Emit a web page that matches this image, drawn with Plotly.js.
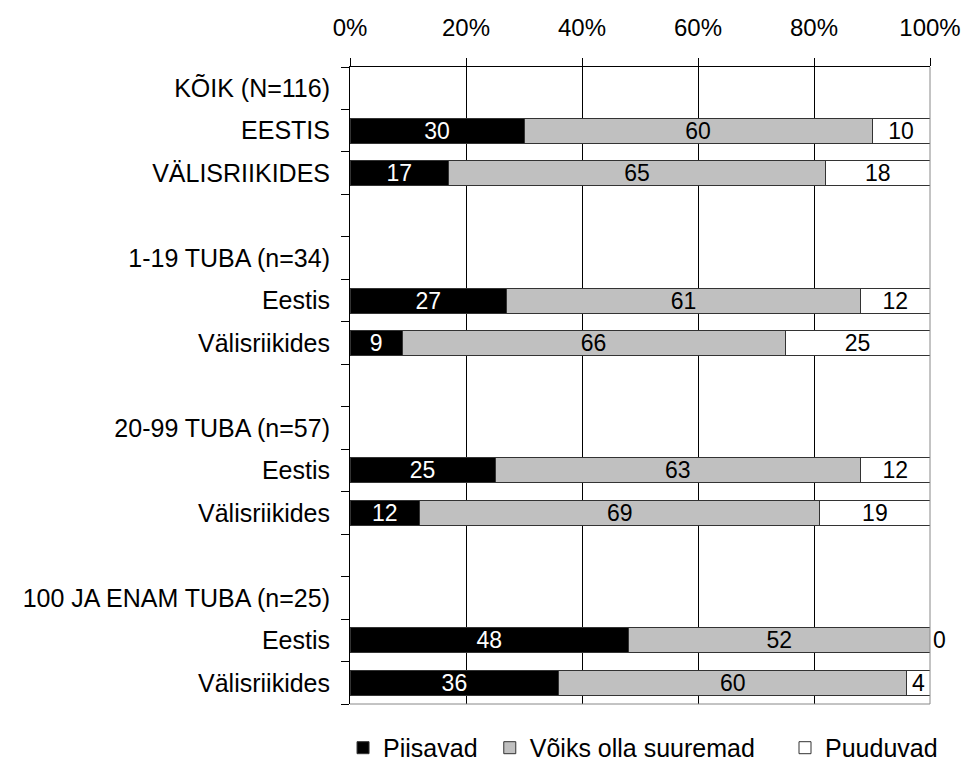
<!DOCTYPE html>
<html>
<head>
<meta charset="utf-8">
<script src="https://cdn.plot.ly/plotly-3.0.1.min.js"></script>
<style>body{margin:0;background:#fff}</style>
</head>
<body>
<div id="chart" style="width:965px;height:764px"></div>
<script>
const categories = [
  "KÕIK (N=116)", "EESTIS", "VÄLISRIIKIDES", " ",
  "1-19 TUBA (n=34)", "Eestis", "Välisriikides", "  ",
  "20-99 TUBA (n=57)", "Eestis ", "Välisriikides ", "   ",
  "100 JA ENAM TUBA (n=25)", "Eestis  ", "Välisriikides  "
];
const tickLabels = [
  "KÕIK (N=116)", "EESTIS", "VÄLISRIIKIDES", "",
  "1-19 TUBA (n=34)", "Eestis", "Välisriikides", "",
  "20-99 TUBA (n=57)", "Eestis", "Välisriikides", "",
  "100 JA ENAM TUBA (n=25)", "Eestis", "Välisriikides"
];
const piisavad = [null, 30, 17, null, null, 27, 9, null, null, 25, 12, null, null, 48, 36];
const voiks    = [null, 60, 65, null, null, 61, 66, null, null, 63, 69, null, null, 52, 60];
const puuduvad = [null, 10, 18, null, null, 12, 25, null, null, 12, 19, null, null, 0, 4];
const seriesNames = ["Piisavad", "Võiks olla suuremad", "Puuduvad"];
const xTicks = [0, 20, 40, 60, 80, 100];
const xTickText = ["0%", "20%", "40%", "60%", "80%", "100%"];

const fontFam = "Liberation Sans, Arial, sans-serif";
function mk(vals, name, fill, txtColor, legendId) {
  return {
    type: "bar", orientation: "h", y: categories, x: vals, name: name,
    legend: legendId,
    marker: {color: fill, line: {color: "#333333", width: 1}},
    text: vals.map(v => v === null ? "" : String(v)),
    textposition: vals.map(v => v === 0 ? "outside" : "inside"),
    insidetextanchor: "middle",
    textangle: 0,
    constraintext: "none",
    textfont: {color: txtColor, size: 23, family: fontFam},
    outsidetextfont: {color: "#000", size: 23, family: fontFam},
    cliponaxis: false,
    hoverinfo: "skip"
  };
}
const data = [
  mk(piisavad, seriesNames[0], "#000000", "#ffffff", "legend"),
  mk(voiks, seriesNames[1], "#c0c0c0", "#000000", "legend2"),
  mk(puuduvad, seriesNames[2], "#ffffff", "#000000", "legend3")
];
const legBase = {orientation: "h", y: -0.069, yanchor: "middle", xanchor: "left",
                 font: {size: 25, family: fontFam, color: "#000"}, bgcolor: "rgba(0,0,0,0)"};
const layout = {
  width: 965, height: 764,
  margin: {l: 350, r: 35, t: 67, b: 60, autoexpand: false},
  barmode: "stack",
  bargap: 0.41,
  paper_bgcolor: "#fff", plot_bgcolor: "#fff",
  font: {family: fontFam, size: 24, color: "#000"},
  showlegend: true,
  legend: Object.assign({}, legBase, {x: -0.012}),
  legend2: Object.assign({}, legBase, {x: 0.241}),
  legend3: Object.assign({}, legBase, {x: 0.75}),
  xaxis: {
    side: "top", range: [0, 100], tickvals: xTicks, ticktext: xTickText,
    showgrid: true, gridcolor: "#000", gridwidth: 1,
    showline: true, linecolor: "#000", linewidth: 1,
    ticks: "outside", ticklen: 8, tickcolor: "#000",
    zeroline: false, fixedrange: true, tickfont: {size: 24},
    ticklabelstandoff: 12, automargin: false
  },
  yaxis: {
    type: "category", autorange: "reversed",
    tickvals: categories, ticktext: tickLabels,
    tickson: "boundaries", ticks: "outside", ticklen: 8, tickcolor: "#000",
    showline: true, linecolor: "#000", linewidth: 1,
    showgrid: false, zeroline: false, tickfont: {size: 25},
    ticklabelstandoff: 14, automargin: false
  },
  shapes: [
    {type: "line", xref: "paper", yref: "paper", x0: 0, x1: 1, y0: 0, y1: 0,
     line: {color: "#888", width: 1}},
    {type: "line", xref: "paper", yref: "paper", x0: 1, x1: 1, y0: 0, y1: 1,
     line: {color: "#888", width: 1}}
  ]
};
Plotly.newPlot("chart", data, layout, {displayModeBar: false, staticPlot: true});
</script>
</body>
</html>
